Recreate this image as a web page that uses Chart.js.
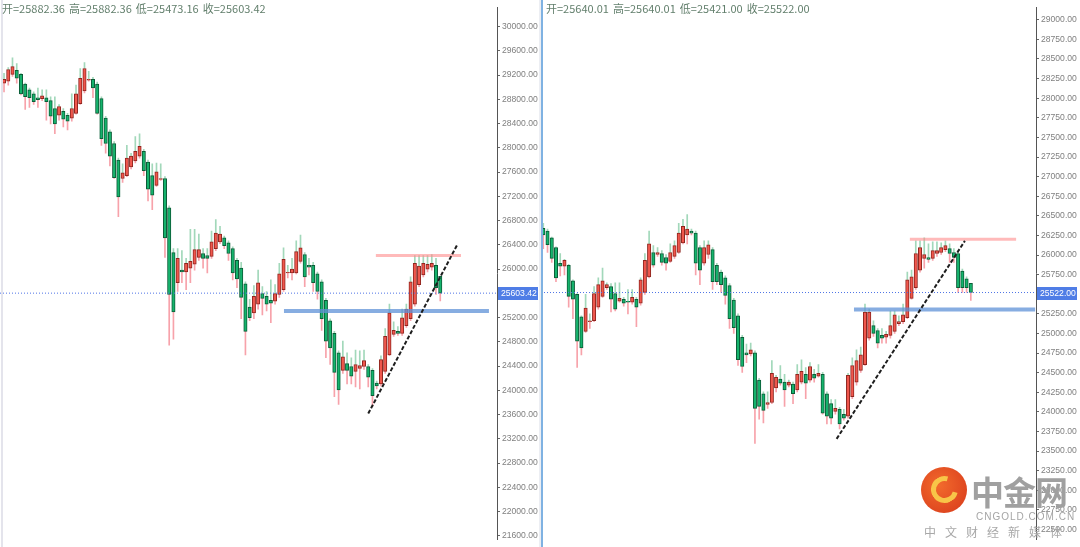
<!DOCTYPE html>
<html>
<head>
<meta charset="utf-8">
<script src="https://cdn.jsdelivr.net/npm/chart.js@4.4.1/dist/chart.umd.min.js"></script>
<style>
  html, body { margin: 0; padding: 0; background: #fff; }
  #wrap { position: relative; width: 1080px; height: 547px; overflow: hidden; font-family: "Noto Sans CJK SC", "Noto Sans", sans-serif; }
  canvas { position: absolute; top: 0; }
  #leftChart { left: 0; }
  #rightChart { left: 541px; }
  .edge { position: absolute; top: 0; height: 547px; }
  .head { position: absolute; top: 0; font-size: 11px; color: #627f6c; white-space: nowrap; }
  .head span { margin-right: 4px; }
  #logo { position: absolute; left: 920px; top: 466px; width: 160px; height: 81px; }
  #logo .mark { position: absolute; left: 1px; top: 1px; width: 46px; height: 46px; border-radius: 50%;
    background: radial-gradient(circle at 40% 40%, #f26a2c, #d7391b); }
  #logo .swirl { position: absolute; left: 10px; top: 9px; width: 17px; height: 17px; border-radius: 50%;
    border: 5px solid #f8c548; border-right-color: transparent; transform: rotate(-30deg); }
  #logo .name { position: absolute; left: 51px; top: 1px; font-size: 33px; font-weight: bold; color: #a0a0a0; letter-spacing: -1px; }
  #logo .site { position: absolute; left: 56px; top: 45px; font-size: 10px; color: #a5a5a5; letter-spacing: 1px; font-family: "Liberation Sans", sans-serif; }
  #logo .slogan { position: absolute; left: 4px; top: 57px; font-size: 12px; color: #a8a8a8; letter-spacing: 9px; }
</style>
</head>
<body>
<div id="wrap">
  <canvas id="leftChart" width="543" height="547"></canvas>
  <canvas id="rightChart" width="539" height="547"></canvas>
  <div class="edge" style="left:1px;width:2px;background:#e4e4ec;"></div>
  <div class="edge" style="left:539px;width:2px;background:#eceef3;"></div>
  <div class="edge" style="left:541px;width:2px;background:#7fb2e2;"></div>
  <div class="head" style="left:2px;"><span>开=25882.36</span><span>高=25882.36</span><span>低=25473.16</span><span>收=25603.42</span></div>
  <div class="head" style="left:546px;"><span>开=25640.01</span><span>高=25640.01</span><span>低=25421.00</span><span>收=25522.00</span></div>
  <div id="logo">
    <div class="mark"><div class="swirl"></div></div>
    <div class="name">中金网</div>
    <div class="site">CNGOLD.COM.CN</div>
    <div class="slogan">中文财经新媒体</div>
  </div>
</div>
<script>
// left panel daily candles
const leftOpen = [29068,29100,29213,29277,29213,29052,28956,28891,28827,28811,
  28827,28779,28650,28538,28602,28538,28490,28570,28731,28940,
  29116,29132,29052,28811,28490,28265,28072,27799,27494,27542,
  27686,27783,27863,27944,27767,27542,27381,27478,27494,27012,
  26273,25775,25984,25952,26016,26080,26193,26257,26225,26209,
  26337,26450,26514,26434,26337,26144,26016,25759,25373,25277,
  25421,25598,25550,25486,25470,25582,25662,25936,25936,25936,
  26128,26241,26064,26064,25920,25791,25486,25148,24940,24618,
  24329,24442,24393,24313,24361,24393,24393,24329,24121,24105,
  24313,24586,24924,24972,24940,25068,25181,25421,25743,25904,
  26000,26032,26064,25882.36];
const leftHigh = [29229,29325,29486,29389,29229,29068,28988,28923,28988,28956,
  28956,28843,28843,28715,28650,28570,28891,29036,29309,29405,
  29261,29164,29084,28843,28522,28297,28104,27831,27735,28040,
  27911,28185,28233,27976,27799,27735,27751,27735,27526,27044,
  26337,26337,26305,26177,26658,26658,26578,26337,26337,26626,
  26819,26707,26546,26466,26369,26177,26112,25791,25502,25727,
  25984,25711,25630,25823,25743,26096,26353,26064,26177,26466,
  26562,26273,26177,26112,25952,25823,25518,25181,24972,24650,
  24811,24618,24538,24666,24650,24666,24426,24361,24153,24570,
  25020,25421,25132,25052,25341,25421,25872,26225,26225,26225,
  26225,26241,26177,25882.36];
const leftLow = [28923,29036,29180,29068,28875,28634,28666,28715,28666,28779,
  28458,28394,28233,28458,28345,28297,28442,28554,28715,28907,
  29100,28827,28554,28040,27911,27703,27494,26867,27429,27526,
  27654,27751,27831,27542,27124,26980,27365,27462,26193,24747,
  24843,25630,25775,25662,25775,25984,26144,26016,25936,26177,
  26305,26418,26337,26144,25823,25695,25181,24586,25148,25181,
  25341,25245,25309,25116,25421,25534,25630,25855,25823,25920,
  26096,25711,25904,25630,25502,24988,24538,24426,23895,23767,
  24281,24105,24105,24056,24024,24345,24056,23735,24024,24073,
  24281,24570,24891,24908,24908,25036,25148,25389,25711,25872,
  25952,25984,25582,25473.16];
const leftClose = [29132,29293,29341,29148,28891,28843,28827,28763,28795,28859,
  28763,28522,28394,28682,28474,28442,28650,28891,29148,29309,
  29132,28988,28570,28152,28072,27863,27510,27189,27590,27831,
  27863,27944,28024,27622,27317,27221,27606,27494,26514,25582,
  25293,26177,25952,26096,26128,26321,26321,26177,26177,26450,
  26594,26578,26385,26257,25936,25839,25534,24972,25197,25550,
  25775,25518,25421,25438,25598,25920,26160,25945,26000,26289,
  26353,25872,26032,25775,25630,25181,24811,24699,24297,24008,
  24554,24329,24233,24426,24410,24490,24217,23912,24073,24506,
  24891,25277,24988,24940,25197,25341,25791,26096,26048,26096,
  26080,26096,25695,25603.42];

// right panel candles
const rightOpen = [26342,26305,26218,26094,25895,25858,25870,25672,25498,25212,
  25026,25150,25162,25336,25473,25585,25597,25510,25411,25436,
  25411,25399,25436,25386,25523,25721,26032,26007,26019,25969,
  25920,25982,26032,26156,26255,26305,26280,26094,25895,26007,
  26069,25870,25783,25709,25610,25424,25224,24951,24752,24740,
  24752,24404,24231,24094,24119,24305,24417,24380,24342,24355,
  24280,24380,24479,24404,24479,24454,24479,24231,24106,24007,
  24032,23970,23945,24193,24380,24529,24603,24939,25100,25038,
  24976,24951,24976,25026,25125,25150,25200,25448,25585,25808,
  25957,25969,25957,26019,26032,26069,26081,26032,26019,25796,
  25697,25640.01];
const rightHigh = [26404,26330,26230,26106,26019,25945,25883,25684,25510,25224,
  25498,25249,25597,25709,25833,25647,25635,25647,25647,25461,
  25560,25560,25461,25709,26019,26305,26119,26094,26056,26007,
  26143,26181,26404,26454,26516,26330,26305,26119,26181,26181,
  26094,25895,25808,25734,25635,25448,25249,24976,24864,24877,
  24777,24429,24255,24255,24653,24467,24591,24479,24404,24380,
  24603,24665,24566,24628,24541,24603,24504,24255,24156,24156,
  24057,24032,24491,24690,24790,24827,25374,25311,25162,25063,
  25063,25026,25286,25286,25224,25374,25783,25808,26181,26181,
  26218,26143,26168,26168,26156,26181,26143,26081,26056,25820,
  25721,25640.01];
const rightLow = [26081,26032,25907,25660,25734,25746,25336,25187,24566,24727,
  25013,25063,25150,25311,25461,25560,25274,25286,25399,25349,
  25249,25374,25088,25361,25498,25709,25845,25982,25870,25808,
  25907,25957,26019,26143,26143,26255,25746,25622,25870,25957,
  25560,25622,25523,25374,25063,25001,24591,24504,24628,24715,
  23597,23908,23858,24044,24106,24255,24342,24069,24318,24106,
  24255,24355,24168,24380,24380,24442,23970,23846,23846,23970,
  23784,23895,23920,24168,24342,24504,24591,24914,24963,24814,
  24877,24877,24939,25001,25100,25125,25187,25436,25560,25783,
  25833,25907,25932,25982,26007,26044,25907,25907,25523,25523,
  25523,25421];
const rightClose = [26255,26131,25957,25709,25858,25932,25473,25436,24901,24814,
  25324,25162,25510,25622,25672,25622,25436,25311,25448,25386,
  25399,25461,25336,25684,25932,26143,25870,26032,25907,25895,
  26032,26119,26280,26367,26330,26280,25895,25808,26094,26131,
  25660,25660,25622,25486,25187,25075,24665,24578,24727,24790,
  24044,24069,24020,24119,24491,24442,24367,24280,24380,24231,
  24479,24516,24367,24578,24429,24491,23982,23945,23920,24044,
  23846,23920,24467,24591,24653,24727,25274,25274,25001,24877,
  24939,24988,25100,25237,25150,25237,25684,25721,26019,26094,
  26007,25945,26056,26056,26094,26119,26019,25969,25585,25585,
  25585,25522];

// axis ticks
const leftTicks = [21600,22000,22400,22800,23200,23600,24000,24400,24800,25200,
  26000,26400,26800,27200,27600,28000,28400,28800,29200,29600,30000];
const rightTicks = [22500,22750,23000,23250,23500,23750,24000,24250,24500,24750,25000,25250,
  25750,26000,26250,26500,26750,27000,27250,27500,27750,28000,28250,28500,28750,29000];

// drawn lines: [value, fromIndex, toIndex]
const leftResistance = [26225, 87.8, 107.9];
const leftSupport = [25309, 66.1, 114.5];
const leftTrend = [[86.0, 23617], [107.1, 26413]];
const rightResistance = [26202, 86.6, 111.7];
const rightSupport = [25305, 73.4, 116.2];
const rightTrend = [[69.3, 23656], [99.6, 26181]];

const UP_FILL = '#f0574d', UP_LINE = '#8f261f';
const DOWN_FILL = '#15b36c', DOWN_LINE = '#0b5c37';

const priceTag = {
	id: 'priceTag',
	afterDraw(chart, args, opts){
		const {ctx, chartArea, scales} = chart;
		const py = Math.round(scales.y.getPixelForValue(opts.value));
		ctx.save();
		ctx.fillStyle = '#4f7de6';
		ctx.fillRect(chartArea.right + 1, py - 6, 40, 13);
		ctx.fillStyle = '#fff';
		ctx.font = '8.6px "Liberation Sans"';
		ctx.textBaseline = 'middle';
		ctx.fillText(opts.value.toFixed(2), chartArea.right + 4, py + 1);
		ctx.restore();
	}
};

function levelLine(level, color, width, dash){
	return {
		type: 'line',
		data: [{x: level[1], y: level[0]}, {x: level[2], y: level[0]}],
		borderColor: color, borderWidth: width, borderDash: dash || [], pointRadius: 0, order: -1
	};
}

function candleChart(canvas, cfg){
	const bodies = [], upper = [], lower = [], fills = [], lines = [];
	cfg.open.forEach((o, i) => {
		const c = cfg.close[i];
		const top = Math.max(o, c), bot = Math.min(o, c);
		bodies.push({x: i, y: [o, c]});
		upper.push({x: i, y: [top, cfg.high[i]]});
		lower.push({x: i, y: [cfg.low[i], bot]});
		fills.push(c >= o ? UP_FILL : DOWN_FILL);
		lines.push(c >= o ? UP_LINE : DOWN_LINE);
	});
	const last = cfg.close[cfg.close.length - 1];

	return new Chart(canvas, {
		type: 'bar',
		data: {
			datasets: [
				{data: bodies, backgroundColor: fills, borderColor: lines, borderWidth: 1,
					borderSkipped: false, barThickness: 3.4, grouped: false, order: 0},
				{data: upper, backgroundColor: 'rgba(70,178,118,0.5)', barThickness: 1, grouped: false, order: 1},
				{data: lower, backgroundColor: 'rgba(240,85,100,0.55)', barThickness: 1, grouped: false, order: 1},
				levelLine([last, cfg.xMin, cfg.xMax], '#4f74e6', 1, [1, 2]),
				levelLine(cfg.resistance, 'rgba(255,140,140,0.6)', 3),
				levelLine(cfg.support, 'rgba(95,145,215,0.75)', 4),
				{
					type: 'line',
					data: cfg.trend.map(p => ({x: p[0], y: p[1]})),
					borderColor: '#1e1e1e', borderWidth: 2, borderDash: [4, 2], pointRadius: 0, order: -2
				}
			]
		},
		options: {
			responsive: false,
			animation: false,
			devicePixelRatio: 1,
			layout: {padding: 0},
			plugins: {legend: {display: false}, tooltip: {enabled: false}, priceTag: {value: last}},
			scales: {
				x: {type: 'linear', min: cfg.xMin, max: cfg.xMax, offset: false, display: false},
				y: {
					position: 'right', min: cfg.yMin, max: cfg.yMax,
					afterBuildTicks: ax => { ax.ticks = cfg.ticks.map(v => ({value: v})); },
					afterFit: ax => { ax.width = cfg.axisWidth; },
					border: {display: true, color: '#555', width: 1},
					grid: {display: true, drawOnChartArea: false, drawTicks: true, tickLength: 3, color: '#666'},
					ticks: {
						color: '#808080', padding: 2, font: {size: 8.6, family: 'Liberation Sans'},
						callback: v => Number(v).toFixed(2)
					}
				}
			}
		},
		plugins: [priceTag]
	});
}

candleChart(document.getElementById('leftChart'), {
	open: leftOpen, high: leftHigh, low: leftLow, close: leftClose,
	xMin: -0.95, xMax: 116.4, yMin: 21534, yMax: 30321, ticks: leftTicks, axisWidth: 46,
	resistance: leftResistance, support: leftSupport, trend: leftTrend
});

candleChart(document.getElementById('rightChart'), {
	open: rightOpen, high: rightHigh, low: rightLow, close: rightClose,
	xMin: -0.54, xMax: 116.4, yMin: 22368, yMax: 29161, ticks: rightTicks, axisWidth: 44,
	resistance: rightResistance, support: rightSupport, trend: rightTrend
});
</script>
</body>
</html>
